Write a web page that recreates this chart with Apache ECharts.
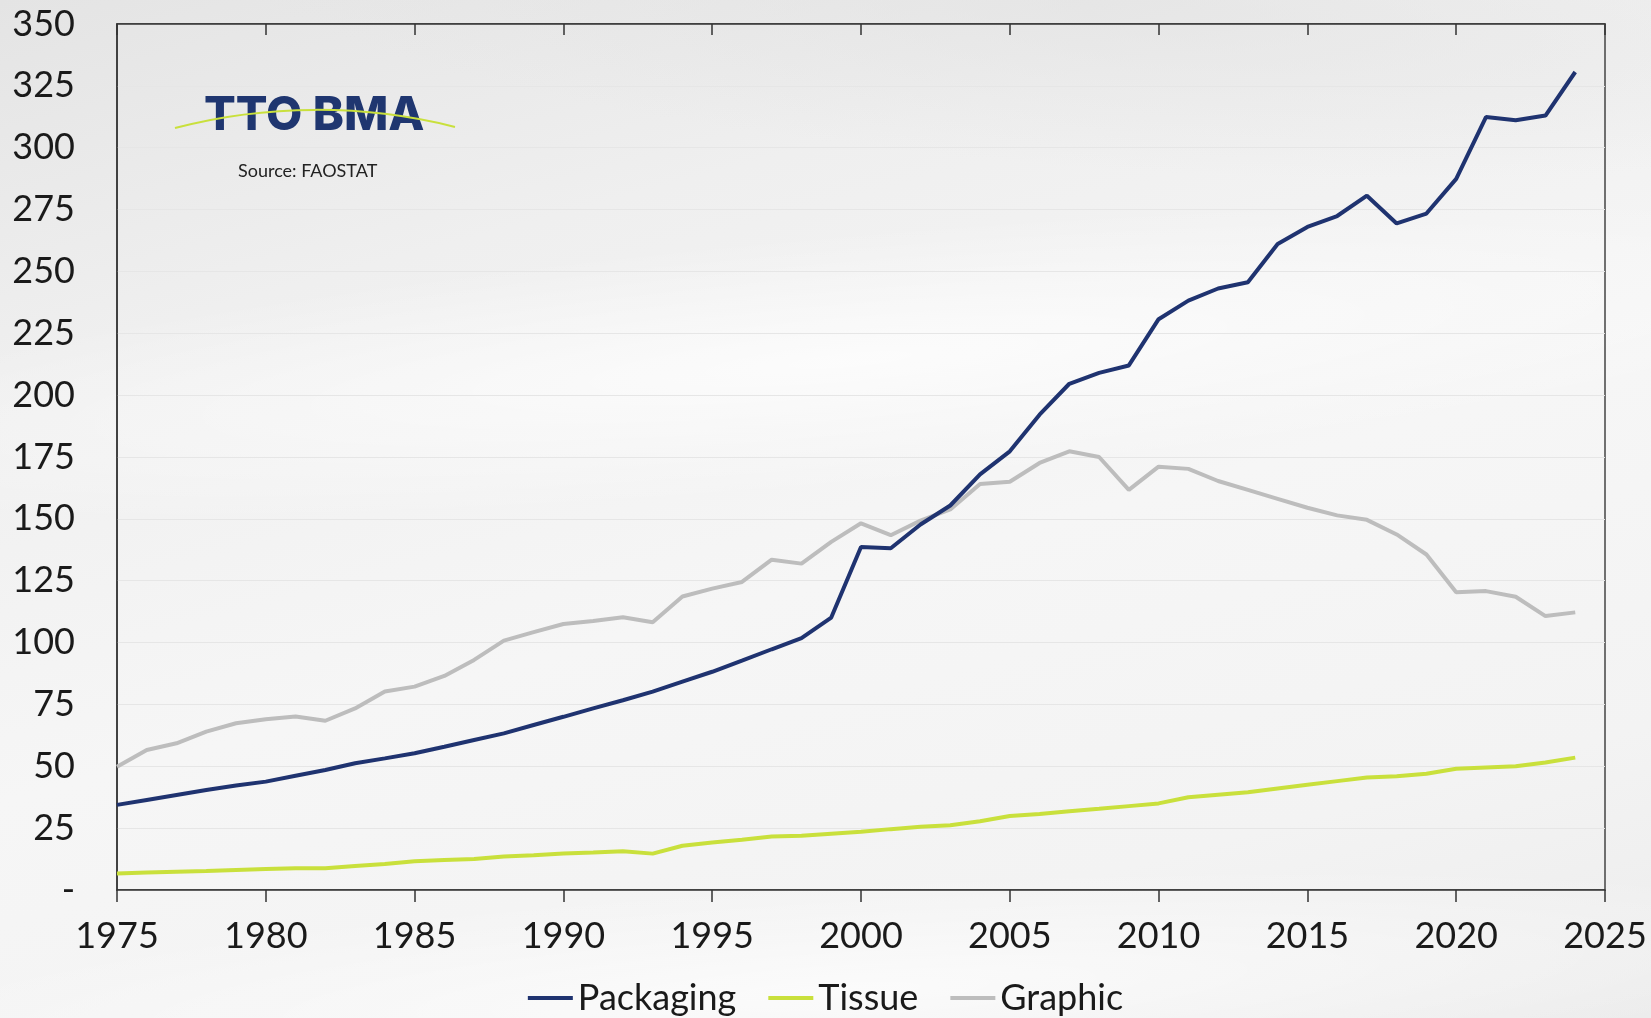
<!DOCTYPE html>
<html>
<head>
<meta charset="utf-8">
<script src="https://cdn.jsdelivr.net/npm/echarts@6/dist/echarts.min.js"></script>
<style>
  html,body{margin:0;padding:0;}
  #wrap{position:relative;width:1651px;height:1018px;overflow:hidden;
    background:linear-gradient(165deg,#e4e4e4 0%,#efefef 25%,#f6f6f6 55%,#f3f3f3 80%,#ececec 100%);}
  .swoosh{position:absolute;border-radius:50%;}
  #s1{left:-300px;top:230px;width:2300px;height:260px;transform:rotate(-5deg);
    background:radial-gradient(ellipse at center,rgba(255,255,255,0.75) 0%,rgba(255,255,255,0) 70%);}
  #s2{left:200px;top:-160px;width:1800px;height:330px;transform:rotate(4deg);
    background:radial-gradient(ellipse at center,rgba(225,225,225,0.6) 0%,rgba(225,225,225,0) 70%);}
  #s3{left:-200px;top:880px;width:2100px;height:220px;transform:rotate(-3deg);
    background:radial-gradient(ellipse at center,rgba(255,255,255,0.7) 0%,rgba(255,255,255,0) 70%);}
  #main{position:absolute;left:0;top:0;width:1651px;height:1018px;}
</style>
</head>
<body>
<div id="wrap">
  <div class="swoosh" id="s1"></div>
  <div class="swoosh" id="s2"></div>
  <div class="swoosh" id="s3"></div>
  <div id="main"></div>
</div>
<script>
// years 1975..2024
var years = [1975,1976,1977,1978,1979,1980,1981,1982,1983,1984,
  1985,1986,1987,1988,1989,1990,1991,1992,1993,1994,
  1995,1996,1997,1998,1999,2000,2001,2002,2003,2004,
  2005,2006,2007,2008,2009,2010,2011,2012,2013,2014,
  2015,2016,2017,2018,2019,2020,2021,2022,2023,2024];

var packaging = [34.4,36.4,38.4,40.4,42.2,43.8,46.2,48.5,51.2,53.2,
  55.3,57.9,60.6,63.3,66.7,70,73.4,76.7,80.2,84.2,
  88.2,92.7,97.3,101.8,110.1,138.6,138.1,147.7,155.4,168,
  177.3,192.1,204.6,209,212,230.7,238.2,243.1,245.6,261.1,
  268,272.4,280.6,269.4,273.4,287.4,312.4,311.1,313,330.6];

var tissue = [6.7,7.1,7.4,7.7,8.1,8.5,8.8,8.8,9.7,10.5,
  11.6,12.1,12.5,13.5,14,14.8,15.2,15.7,14.7,17.9,
  19.2,20.3,21.6,21.9,22.7,23.5,24.6,25.6,26.2,27.8,
  29.9,30.7,31.8,32.8,33.9,35,37.5,38.5,39.5,41,
  42.5,44,45.5,46,47,49,49.5,50,51.5,53.5];

var graphic = [49.8,56.6,59.3,64,67.4,69,70.1,68.4,73.4,80.2,
  82.2,86.5,93,100.8,104.2,107.5,108.7,110.2,108.2,118.6,
  121.8,124.5,133.5,131.9,140.7,148.2,143.4,149.3,153.8,164.1,
  165,172.6,177.3,175,161.7,171.1,170.2,165.3,161.7,158.1,
  154.5,151.4,149.6,143.7,135.6,120.3,120.8,118.5,110.7,112.2];

var seriesNames = ['Packaging','Tissue','Graphic'];
var seriesColors = ['#1f3370','#c9e03c','#bdbdbd'];

function pairs(vals){
  var out = [];
  for(var i=0;i<years.length;i++){ out.push([years[i], vals[i]]); }
  return out;
}

var font = 'Lato';
var fs = 36;
var myChart = echarts.init(document.getElementById('main'));

var xBase = {
  type:'value', min:1975, max:2025, interval:5,
  splitLine:{show:false},
  axisLine:{lineStyle:{color:'#333',width:1.5}}
};

var option = {
  backgroundColor:'transparent',
  animation:false,
  textStyle:{fontFamily:font},
  graphic:[
    {
      type:'text', z:10, left:204, top:92,
      style:{text:'TTO BMA',font:'800 47px Inter',fill:'#1f3670'}
    },
    {
      type:'bezierCurve', z:11, silent:true,
      shape:{x1:175,y1:128,x2:455,y2:127,cpx1:265,cpy1:104,cpx2:365,cpy2:104},
      style:{stroke:'#c9e03c',lineWidth:2,fill:null}
    },
    {
      type:'text', z:10, left:238, top:162,
      style:{text:'Source: FAOSTAT',font:'18px Lato',fill:'#222'}
    }
  ],
  grid:{
    left:117, right:46, top:24, bottom:128,
    show:true, borderColor:'#444', borderWidth:1.5,
    backgroundColor:'transparent'
  },
  legend:{
    top:975, left:'center',
    data:seriesNames,
    icon:'rect', itemWidth:45, itemHeight:4, itemGap:32,
    textStyle:{fontFamily:font,fontSize:fs,color:'#1a1a1a'}
  },
  xAxis:[
    echarts.util.merge({
      axisTick:{show:true,length:12,lineStyle:{color:'#333',width:1.5}},
      axisLabel:{fontFamily:font,fontSize:fs,color:'#1a1a1a',margin:28,
        formatter:function(v){ return String(v); }}
    }, xBase),
    echarts.util.merge({
      axisTick:{show:true,inside:true,length:11,lineStyle:{color:'#333',width:1.5}},
      axisLabel:{show:false}
    }, xBase)
  ],
  yAxis:{
    type:'value', min:0, max:350, interval:25,
    axisLine:{show:true,lineStyle:{color:'#333',width:1.5}},
    axisTick:{show:false},
    splitLine:{lineStyle:{color:'#e6e6e6',width:1}},
    axisLabel:{
      fontFamily:font,fontSize:fs,color:'#1a1a1a',margin:42,
      formatter:function(v){ return v === 0 ? '-' : String(v); }
    }
  },
  series:[
    {name:seriesNames[0],type:'line',data:pairs(packaging),showSymbol:false,
     lineStyle:{width:4,color:seriesColors[0]},itemStyle:{color:seriesColors[0]},z:5},
    {name:seriesNames[1],type:'line',data:pairs(tissue),showSymbol:false,
     lineStyle:{width:4,color:seriesColors[1]},itemStyle:{color:seriesColors[1]},z:4},
    {name:seriesNames[2],type:'line',data:pairs(graphic),showSymbol:false,
     lineStyle:{width:4,color:seriesColors[2]},itemStyle:{color:seriesColors[2]},z:3}
  ]
};
myChart.setOption(option);
</script>
</body>
</html>
